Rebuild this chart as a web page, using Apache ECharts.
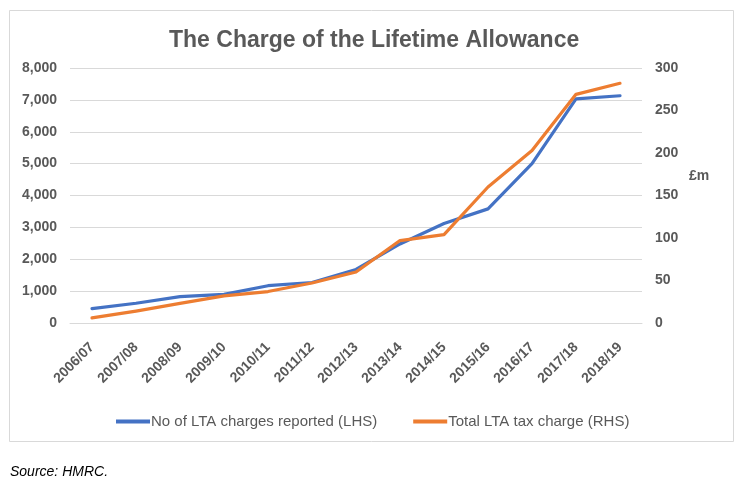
<!DOCTYPE html>
<html>
<head>
<meta charset="utf-8">
<script src="https://cdn.jsdelivr.net/npm/echarts@6/dist/echarts.min.js"></script>
<style>
html,body{margin:0;padding:0;background:#fff;}
#chart{width:749px;height:487px;}
</style>
</head>
<body>
<div id="chart"></div>
<script>
const categories = ['2006/07','2007/08','2008/09','2009/10','2010/11','2011/12','2012/13','2013/14','2014/15','2015/16','2016/17','2017/18','2018/19'];
const chargesReported = [450, 620, 830, 900, 1170, 1270, 1680, 2480, 3120, 3580, 5000, 7030, 7130];
const totalTaxCharge = [6, 14, 23, 32, 37, 47, 60, 97, 104, 160, 203, 269, 282];
const leftTicks = {min: 0, max: 8000, interval: 1000};
const rightTicks = {min: 0, max: 300, interval: 50};

const FONT = "'Liberation Sans', Arial, sans-serif";
const GREY = '#595959';
const chart = echarts.init(document.getElementById('chart'), null, {renderer: 'canvas'});
chart.setOption({
  animation: false,
  backgroundColor: '#ffffff',
  title: {
    text: 'The Charge of the Lifetime Allowance',
    left: 164,
    top: 24,
    textStyle: {fontFamily: FONT, fontSize: 23, fontWeight: 'bold', color: GREY}
  },
  graphic: [
    {type: 'rect', shape: {x: 9.5, y: 10.5, width: 724, height: 431},
     style: {fill: 'none', stroke: '#d9d9d9', lineWidth: 1}, silent: true},
    {type: 'text', left: 689, top: 169,
     style: {text: '£m', fontFamily: FONT, fontSize: 14, fontWeight: 'bold', fill: GREY}},
    {type: 'text', left: 10, top: 465,
     style: {text: 'Source: HMRC.', fontFamily: FONT, fontSize: 14, fontStyle: 'italic', fill: '#000'}}
  ],
  legend: {
    left: 111,
    top: 409,
    icon: 'rect',
    itemWidth: 34,
    itemHeight: 4,
    itemGap: 36,
    textStyle: {fontFamily: FONT, fontSize: 15, color: GREY, padding: [0, 0, 0, -4]},
    data: ['No of LTA charges reported (LHS)', 'Total LTA tax charge (RHS)']
  },
  grid: {left: 70, right: 107, top: 68, bottom: 164, containLabel: false},
  xAxis: {
    type: 'category',
    data: categories,
    boundaryGap: true,
    axisLine: {show: true, lineStyle: {color: '#d9d9d9', width: 1}},
    axisTick: {show: false},
    axisLabel: {interval: 0, rotate: 45, margin: 22, fontFamily: FONT, fontSize: 14, fontWeight: 'bold', color: GREY}
  },
  yAxis: [
    {
      type: 'value', position: 'left',
      min: leftTicks.min, max: leftTicks.max, interval: leftTicks.interval,
      axisLine: {show: false}, axisTick: {show: false},
      splitLine: {show: true, lineStyle: {color: '#d9d9d9', width: 1}},
      axisLabel: {margin: 13, fontFamily: FONT, fontSize: 14, fontWeight: 'bold', color: GREY,
        formatter: v => v.toLocaleString('en-GB')}
    },
    {
      type: 'value', position: 'right',
      min: rightTicks.min, max: rightTicks.max, interval: rightTicks.interval,
      axisLine: {show: false}, axisTick: {show: false}, splitLine: {show: false},
      axisLabel: {margin: 13, fontFamily: FONT, fontSize: 14, fontWeight: 'bold', color: GREY}
    }
  ],
  series: [
    {
      name: 'No of LTA charges reported (LHS)', type: 'line', yAxisIndex: 0,
      data: chargesReported, symbol: 'none', showSymbol: false,
      lineStyle: {color: '#4472C4', width: 3.2, cap: 'round', join: 'round'},
      itemStyle: {color: '#4472C4'}
    },
    {
      name: 'Total LTA tax charge (RHS)', type: 'line', yAxisIndex: 1,
      data: totalTaxCharge, symbol: 'none', showSymbol: false,
      lineStyle: {color: '#ED7D31', width: 3.2, cap: 'round', join: 'round'},
      itemStyle: {color: '#ED7D31'}
    }
  ]
});
</script>
</body>
</html>
